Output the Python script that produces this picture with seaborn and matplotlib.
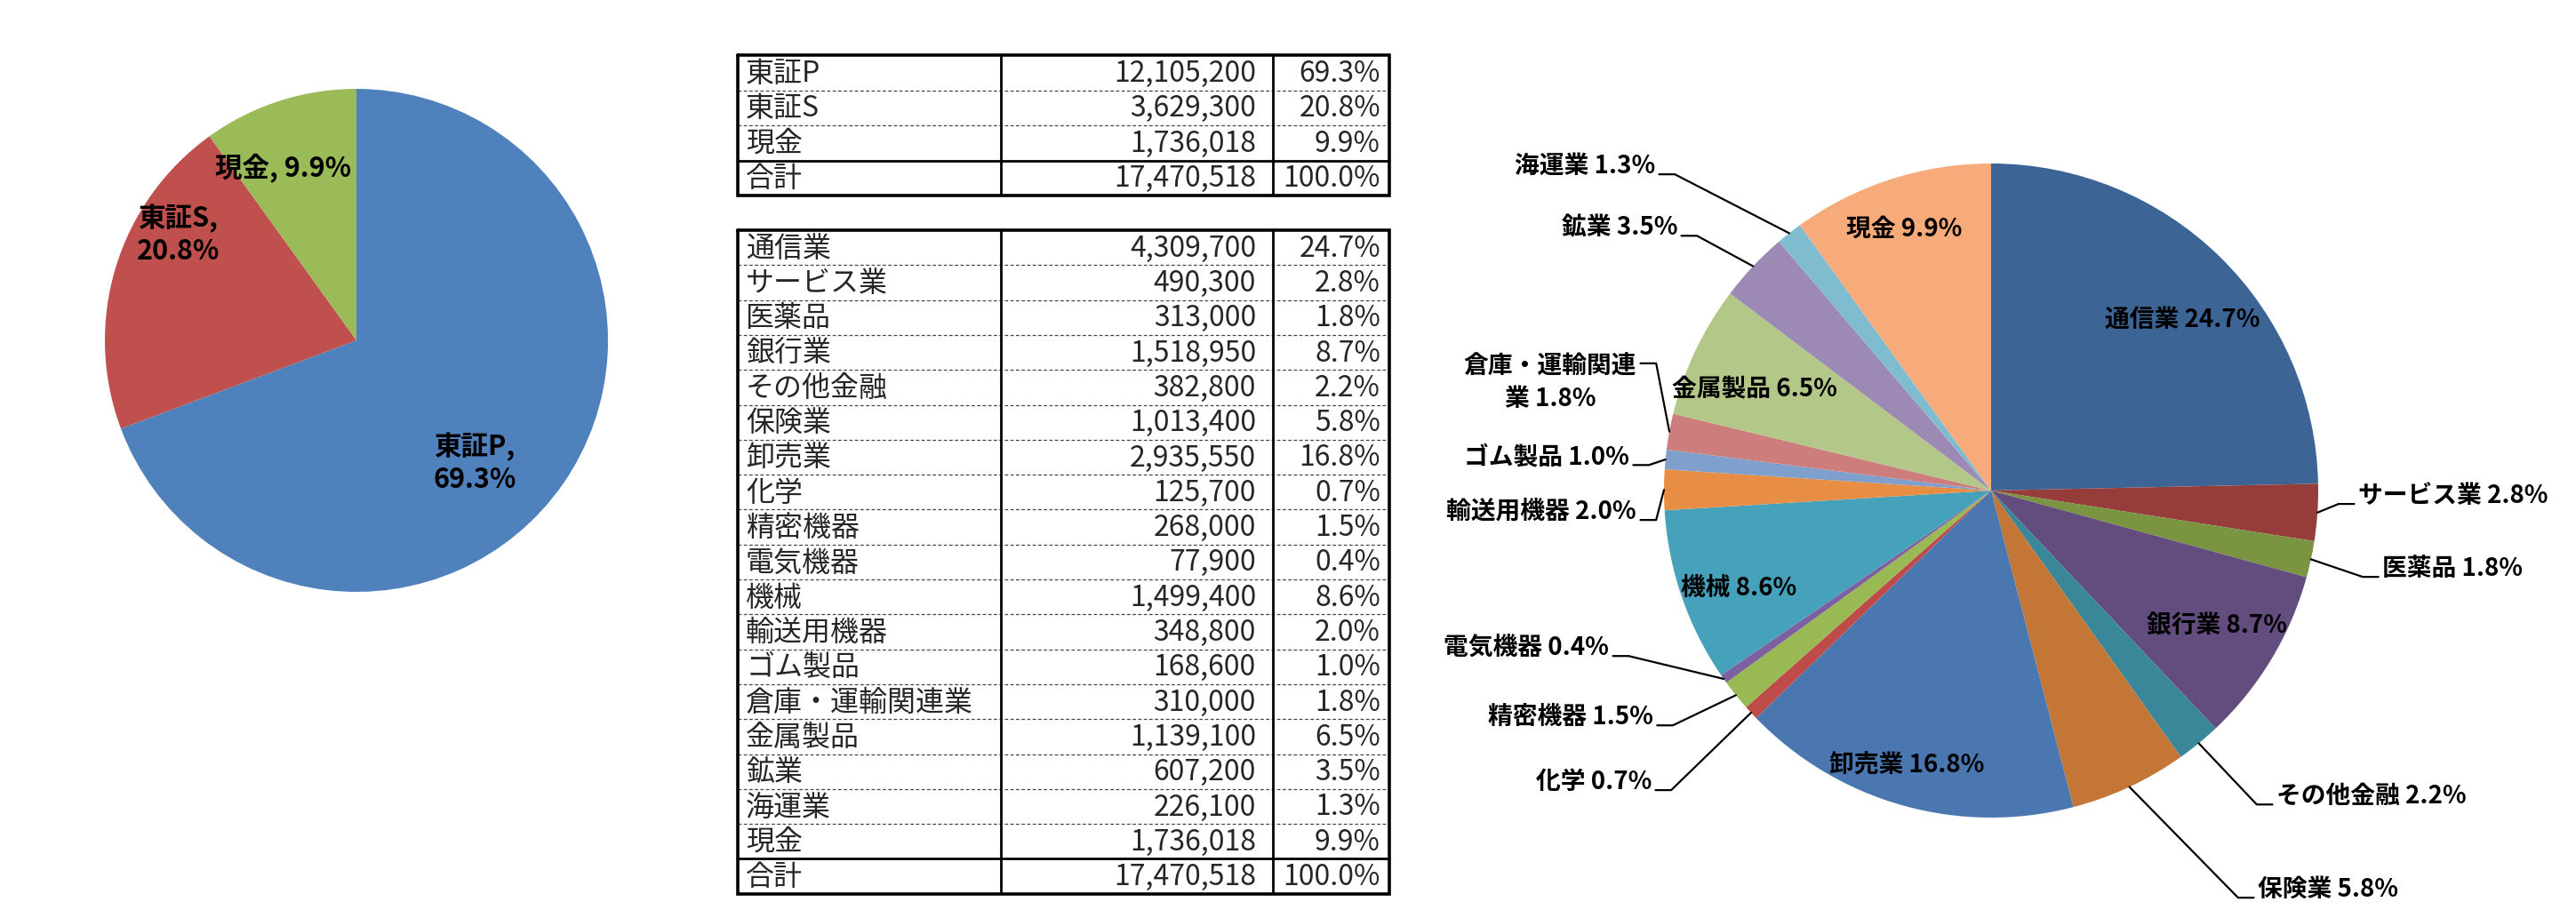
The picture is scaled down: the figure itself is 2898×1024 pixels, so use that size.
import matplotlib
matplotlib.use("Agg")
import matplotlib.pyplot as plt
import seaborn as sns
import numpy as np

# market split
market_names = ["東証P", "東証S", "現金"]
market_values = [12105200, 3629300, 1736018]
market_colors = ["#4F81BD", "#C0504D", "#9BBB59"]

# sector split
sector_names = ["通信業", "サービス業", "医薬品", "銀行業", "その他金融", "保険業", "卸売業",
                "化学", "精密機器", "電気機器", "機械", "輸送用機器", "ゴム製品",
                "倉庫・運輸関連業", "金属製品", "鉱業", "海運業", "現金"]
sector_values = [4309700, 490300, 313000, 1518950, 382800, 1013400, 2935550,
                 125700, 268000, 77900, 1499400, 348800, 168600,
                 310000, 1139100, 607200, 226100, 1736018]
sector_colors = ["#3C6495", "#963C3B", "#7A9441", "#634C7E", "#398799", "#C47636", "#4A77B0",
                 "#BE4B48", "#98B954", "#7D60A0", "#46A1BA", "#E88D44", "#7F9FCC",
                 "#CD7E7C", "#B2C788", "#9C8AB4", "#7FBCD0", "#F7AB7B"]
# label text for pie (倉庫 wraps in two lines)
sector_pie_names = list(sector_names)
sector_pie_names[13] = "倉庫・運輸関連\n業"

sns.set_theme(style="white")
plt.rcParams['font.family'] = ['Noto Sans CJK JP', 'DejaVu Sans']

W, H = 2898, 1024
fig = plt.figure(figsize=(W / 100, H / 100), dpi=100)
fig.patch.set_facecolor("white")


def pie_axes(cx, cy, r, lim):
    half = r * lim
    ax = fig.add_axes([(cx - half) / W, (H - cy - half) / H, 2 * half / W, 2 * half / H])
    ax.axis("off")
    return ax


def fix_limits(ax, lim):
    ax.set_xlim(-lim, lim)
    ax.set_ylim(-lim, lim)
    ax.set_aspect("equal")


# ---------- left pie ----------
ax1 = pie_axes(401, 383, 283, 1.4)
wedges1, _ = ax1.pie(market_values, colors=market_colors, startangle=90, counterclock=False,
                     radius=1, wedgeprops=dict(linewidth=0))
fix_limits(ax1, 1.4)
total1 = sum(market_values)
left_pos = [(0.47, -0.49), (-0.71, 0.42), (-0.29, 0.685)]
for name, v, (x, y) in zip(market_names, market_values, left_pos):
    if name == "現金":
        s = f"{name}, {v / total1 * 100:.1f}%"
    else:
        s = f"{name},\n{v / total1 * 100:.1f}%"
    ax1.text(x, y, s, ha="center", va="center", fontsize=22, fontweight="bold",
             linespacing=1.2, color="black")

# ---------- tables ----------
axt = fig.add_axes([0, 0, 1, 1])
axt.set_xlim(0, W)
axt.set_ylim(H, 0)
axt.axis("off")
axt.patch.set_alpha(0)

x0, x1, x2, x3 = 830, 1126, 1432, 1563
tfam = ['Noto Sans CJK JP', 'DejaVu Sans']


def draw_table(names, values, top, rh):
    total = sum(values)
    rows = [(n, v) for n, v in zip(names, values)] + [("合計", total)]
    n = len(rows)
    bottom = top + n * rh
    for i, (name, v) in enumerate(rows):
        yc = top + (i + 0.5) * rh + 1
        axt.text(x0 + 9, yc, name, ha="left", va="center", fontsize=23, family=tfam)
        axt.text(x2 - 19, yc, f"{v:,}", ha="right", va="center", fontsize=23, family=tfam)
        axt.text(x3 - 10, yc, f"{v / total * 100:.1f}%", ha="right", va="center",
                 fontsize=23, family=tfam)
        if 0 < i < n - 1:
            axt.hlines(top + i * rh, x0, x3, colors="#444444", linewidth=0.9,
                       linestyles=(0, (3, 2)))
    axt.hlines(top + (n - 1) * rh, x0, x3, colors="black", linewidth=2)
    axt.vlines([x1, x2], top, bottom, colors="black", linewidth=2)
    axt.plot([x0, x3, x3, x0, x0], [top, top, bottom, bottom, top], color="black",
             linewidth=2.6, solid_joinstyle="miter")


draw_table(market_names, market_values, 62, 39.5)
draw_table(sector_names, sector_values, 259, 39.3)

# ---------- right pie ----------
ax2 = pie_axes(2240, 552, 368, 1.5)
wedges2, _ = ax2.pie(sector_values, colors=sector_colors, startangle=90, counterclock=False,
                     radius=1, wedgeprops=dict(linewidth=0))
fix_limits(ax2, 1.5)
total2 = sum(sector_values)

# inside labels: (x, y); outside labels: (x, y, ha)
inside_pos = {0: (0.584, 0.522), 3: (0.69, -0.413), 6: (-0.258, -0.84),
              10: (-0.772, -0.299), 14: (-0.723, 0.3125), 17: (-0.266, 0.799)}
outside_pos = {1: (1.122, -0.016, "left"), 2: (1.196, -0.239, "left"),
               4: (0.872, -0.935, "left"), 5: (0.815, -1.22, "left"),
               7: (-1.038, -0.891, "right"), 8: (-1.033, -0.693, "right"),
               9: (-1.168, -0.481, "right"), 11: (-1.084, -0.065, "right"),
               12: (-1.106, 0.103, "right"), 13: (-1.084, 0.329, "right"),
               15: (-0.959, 0.804, "right"), 16: (-1.027, 0.992, "right")}

for i, (name, v, w) in enumerate(zip(sector_pie_names, sector_values, wedges2)):
    s = f"{name} {v / total2 * 100:.1f}%"
    if i in inside_pos:
        x, y = inside_pos[i]
        ax2.text(x, y, s, ha="center", va="center", fontsize=20, fontweight="bold",
                 color="black")
    else:
        x, y, ha = outside_pos[i]
        ax2.text(x, y, s, ha=ha, va="center", fontsize=20, fontweight="bold",
                 color="black", multialignment="center", linespacing=1.4)
        mid = np.deg2rad((w.theta1 + w.theta2) / 2)
        ex, ey = np.cos(mid), np.sin(mid)
        sgn = 1 if ha == "right" else -1
        ly = y - 0.025 if i != 13 else y + 0.06
        ax2.plot([ex, x + sgn * 0.06, x + sgn * 0.012], [ey, ly, ly], color="black",
                 linewidth=1.6, clip_on=False)

fig.savefig("out.png", dpi=100, facecolor="white")
